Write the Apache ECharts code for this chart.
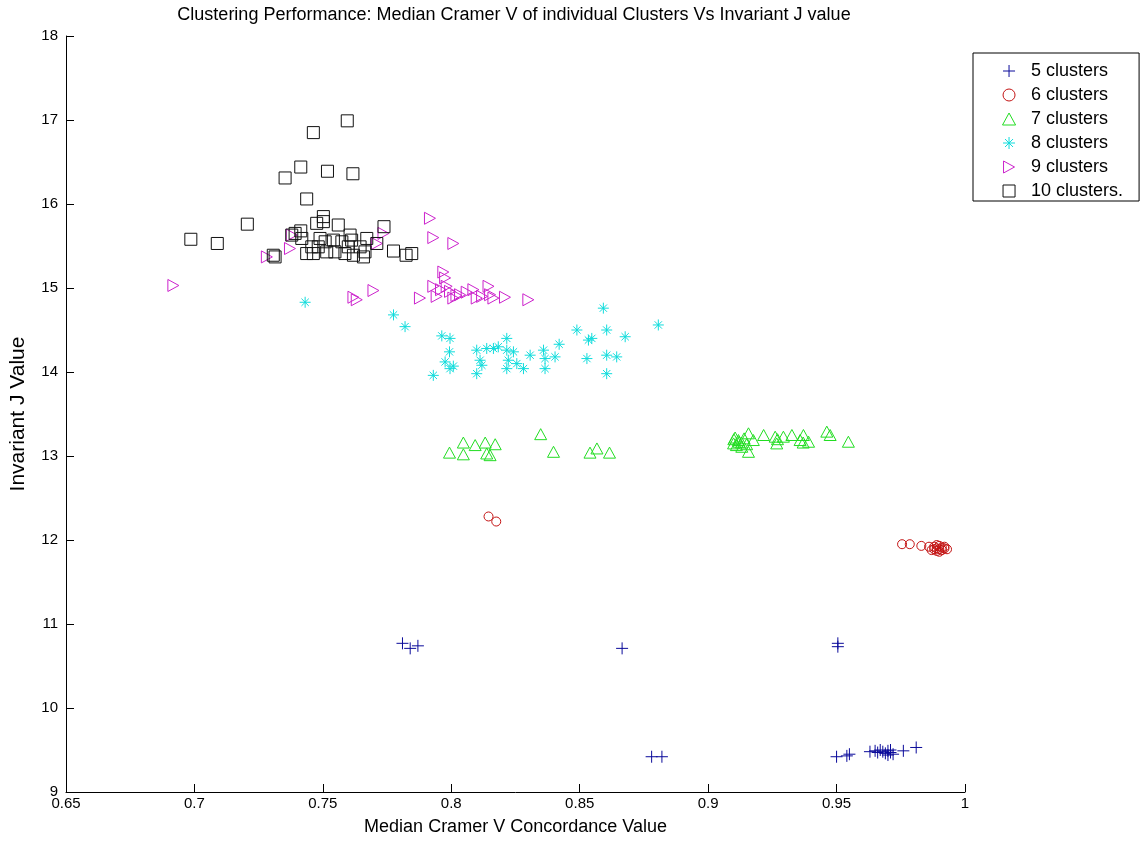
<!DOCTYPE html>
<html>
<head>
<meta charset="utf-8">
<title>Clustering Performance</title>
<script src="https://cdn.jsdelivr.net/npm/echarts@6/dist/echarts.min.js"></script>
<style>
  html, body { margin: 0; padding: 0; background: #ffffff; }
  #chart { width: 1145px; height: 843px; }
</style>
</head>
<body>
<div id="chart"></div>
<script>
// Median Cramer V concordance (x) vs invariant J value (y), one list per cluster count
const seriesNames = ['5 clusters', '6 clusters', '7 clusters', '8 clusters', '9 clusters', '10 clusters.'];

const clusters5 = [
  [0.781, 10.77], [0.784, 10.71], [0.787, 10.74], [0.8665, 10.71],
  [0.9505, 10.77], [0.9505, 10.73],
  [0.878, 9.42], [0.882, 9.42], [0.950, 9.42], [0.954, 9.43], [0.955, 9.45],
  [0.963, 9.48], [0.965, 9.49], [0.966, 9.47], [0.967, 9.50], [0.968, 9.48],
  [0.969, 9.46], [0.970, 9.49], [0.970, 9.44], [0.971, 9.47], [0.972, 9.45],
  [0.971, 9.50], [0.976, 9.49], [0.981, 9.53]
];

const clusters6 = [
  [0.8145, 12.28], [0.8175, 12.22],
  [0.9755, 11.95], [0.9785, 11.95], [0.983, 11.93], [0.986, 11.92],
  [0.987, 11.88], [0.988, 11.92], [0.989, 11.90], [0.989, 11.87],
  [0.990, 11.93], [0.990, 11.89], [0.991, 11.91], [0.991, 11.88],
  [0.992, 11.90], [0.992, 11.92], [0.993, 11.89], [0.989, 11.94],
  [0.988, 11.89], [0.990, 11.86]
];

const clusters7 = [
  [0.7993, 13.04], [0.8047, 13.16], [0.8047, 13.02], [0.8093, 13.13],
  [0.8132, 13.16], [0.8138, 13.03], [0.8171, 13.14], [0.8151, 13.01],
  [0.8348, 13.26], [0.8398, 13.05], [0.854, 13.04], [0.8567, 13.09], [0.8616, 13.04],
  [0.9099, 13.15], [0.9118, 13.19], [0.9131, 13.11], [0.9157, 13.27],
  [0.9157, 13.05], [0.9176, 13.19], [0.9216, 13.25], [0.9261, 13.23],
  [0.9267, 13.15], [0.9293, 13.23], [0.9326, 13.25], [0.9358, 13.19],
  [0.9371, 13.25], [0.9391, 13.17], [0.9462, 13.29], [0.9475, 13.25],
  [0.9546, 13.17],
  [0.910, 13.20], [0.911, 13.13], [0.912, 13.17], [0.914, 13.21],
  [0.9105, 13.22], [0.913, 13.16], [0.915, 13.14], [0.927, 13.20], [0.937, 13.16]
];

const clusters8 = [
  [0.7431, 14.83], [0.7775, 14.68], [0.782, 14.54], [0.7963, 14.43],
  [0.7995, 14.40], [0.7993, 14.24], [0.7976, 14.12], [0.7995, 14.04],
  [0.8008, 14.07], [0.7930, 13.96], [0.8099, 14.26], [0.8112, 14.14],
  [0.8119, 14.08], [0.8099, 13.98], [0.8138, 14.28], [0.8164, 14.28],
  [0.8183, 14.30], [0.8216, 14.40], [0.8216, 14.26], [0.8222, 14.14],
  [0.8216, 14.04], [0.8242, 14.24], [0.8255, 14.10], [0.8281, 14.04],
  [0.8307, 14.20], [0.8359, 14.26], [0.8365, 14.16], [0.8365, 14.04],
  [0.8404, 14.18], [0.8420, 14.33], [0.8489, 14.50], [0.8534, 14.38],
  [0.8547, 14.40], [0.8528, 14.16], [0.8592, 14.76], [0.8605, 14.50],
  [0.8605, 14.20], [0.8644, 14.18], [0.8605, 13.98], [0.8677, 14.42],
  [0.8806, 14.56]
];

const clusters9 = [
  [0.6918, 15.03], [0.7282, 15.37], [0.7372, 15.47], [0.7379, 15.63],
  [0.7736, 15.65], [0.7710, 15.53],
  [0.7619, 14.89], [0.7632, 14.86], [0.7697, 14.97],
  [0.7917, 15.83], [0.7930, 15.60], [0.8008, 15.53],
  [0.7878, 14.88], [0.7930, 15.02], [0.7943, 14.90], [0.7969, 15.19],
  [0.7976, 15.12], [0.7982, 15.02], [0.7995, 14.96], [0.8008, 14.88],
  [0.8034, 14.92], [0.8086, 14.98], [0.8099, 14.88], [0.8145, 15.02],
  [0.8151, 14.92], [0.8164, 14.88], [0.8209, 14.89], [0.8300, 14.86],
  [0.812, 14.90], [0.806, 14.95], [0.796, 14.98], [0.802, 14.91]
];

const clusters10 = [
  [0.7595, 16.99], [0.7463, 16.85], [0.7414, 16.44], [0.7353, 16.31],
  [0.7518, 16.39], [0.7617, 16.36], [0.7437, 16.06], [0.7206, 15.76],
  [0.6986, 15.58], [0.7089, 15.53], [0.7307, 15.39], [0.7314, 15.37],
  [0.7379, 15.63], [0.7414, 15.68], [0.7418, 15.59], [0.7476, 15.77],
  [0.7502, 15.85], [0.7502, 15.79], [0.7560, 15.75], [0.7738, 15.73],
  [0.7437, 15.41], [0.7463, 15.41], [0.7482, 15.49], [0.7509, 15.55],
  [0.7515, 15.43], [0.7541, 15.57], [0.7547, 15.43], [0.7574, 15.55],
  [0.7586, 15.41], [0.7599, 15.49], [0.7612, 15.57], [0.7619, 15.39],
  [0.7645, 15.49], [0.7658, 15.37], [0.7671, 15.59], [0.7664, 15.43],
  [0.7710, 15.53], [0.7775, 15.44], [0.7824, 15.39], [0.7846, 15.41],
  [0.7489, 15.59], [0.7392, 15.65], [0.7457, 15.49], [0.7606, 15.63]
];

const xTickValues = [0.65, 0.7, 0.75, 0.8, 0.85, 0.9, 0.95, 1];
const yTickValues = [9, 10, 11, 12, 13, 14, 15, 16, 17, 18];

// marker outlines (stroked, unfilled)
const markers = {
  plus: 'path://M6,0L6,12M0,6L12,6',
  circle: 'path://M6,0A6,6,0,1,1,5.99,0Z',
  triUp: 'path://M6,0L12,11L0,11Z',
  star: 'path://M6,0L6,12M0,6L12,6M2,2L10,10M10,2L2,10',
  triRight: 'path://M0,0L11,6L0,12Z',
  square: 'path://M0,0L12,0L12,12L0,12Z'
};

const colors = ['#0a0a9a', '#c41414', '#22dd22', '#10dcdc', '#cc22cc', '#111111'];
const dataSets = [clusters5, clusters6, clusters7, clusters8, clusters9, clusters10];
const symbols = [markers.plus, markers.circle, markers.triUp, markers.star, markers.triRight, markers.square];
const sizes = [12, 9, 12, 11, 12, 12];

const FONT = '"Liberation Sans", Arial, Helvetica, sans-serif';

const series = seriesNames.map((name, i) => ({
  name: name,
  type: 'scatter',
  data: dataSets[i],
  symbol: symbols[i],
  symbolSize: sizes[i],
  symbolKeepAspect: true,
  itemStyle: { color: 'rgba(0,0,0,0)', borderColor: colors[i], borderWidth: 1, opacity: 1 },
  emphasis: { disabled: true },
  animation: false
}));

const chart = echarts.init(document.getElementById('chart'), null, { renderer: 'canvas' });

chart.setOption({
  backgroundColor: '#ffffff',
  animation: false,
  title: {
    text: 'Clustering Performance: Median Cramer V of individual Clusters Vs Invariant J value',
    left: 509, top: 1, textAlign: 'center',
    textStyle: { fontFamily: FONT, fontSize: 18, fontWeight: 'normal', color: '#000' }
  },
  grid: { left: 66, right: 180, top: 36, bottom: 51, containLabel: false },
  xAxis: {
    type: 'value',
    min: xTickValues[0], max: xTickValues[xTickValues.length - 1], interval: 0.05,
    name: 'Median Cramer V Concordance Value',
    nameLocation: 'middle', nameGap: 26,
    nameTextStyle: { fontFamily: FONT, fontSize: 18, color: '#000' },
    axisLine: { onZero: false, lineStyle: { color: '#000', width: 1 } },
    axisTick: { inside: true, length: 8, lineStyle: { color: '#000' } },
    axisLabel: { fontFamily: FONT, fontSize: 15, color: '#000', margin: 4,
      formatter: v => String(parseFloat(v.toFixed(2))) },
    splitLine: { show: false }
  },
  yAxis: {
    type: 'value',
    min: yTickValues[0], max: yTickValues[yTickValues.length - 1], interval: 1,
    name: 'Invariant J Value',
    nameLocation: 'middle', nameGap: 37, nameRotate: 90,
    nameTextStyle: { fontFamily: FONT, fontSize: 21, color: '#000' },
    axisLine: { show: true, onZero: false, lineStyle: { color: '#000', width: 1 } },
    axisTick: { show: true, inside: true, length: 8, lineStyle: { color: '#000' } },
    axisLabel: { fontFamily: FONT, fontSize: 15, color: '#000', margin: 8 },
    splitLine: { show: false }
  },
  legend: {
    orient: 'vertical',
    left: 973, top: 53,
    padding: [9, 16, 1, 29],
    itemWidth: 34, itemHeight: 12, itemGap: 6,
    symbolKeepAspect: true,
    borderColor: '#000', borderWidth: 1,
    backgroundColor: '#fff',
    selectedMode: false,
    textStyle: { fontFamily: FONT, fontSize: 18, color: '#000' },
    data: seriesNames.map((n, i) => ({
      name: n,
      itemStyle: { color: 'rgba(0,0,0,0)', borderColor: colors[i], borderWidth: 1 }
    }))
  },
  series: series
});
</script>
</body>
</html>
